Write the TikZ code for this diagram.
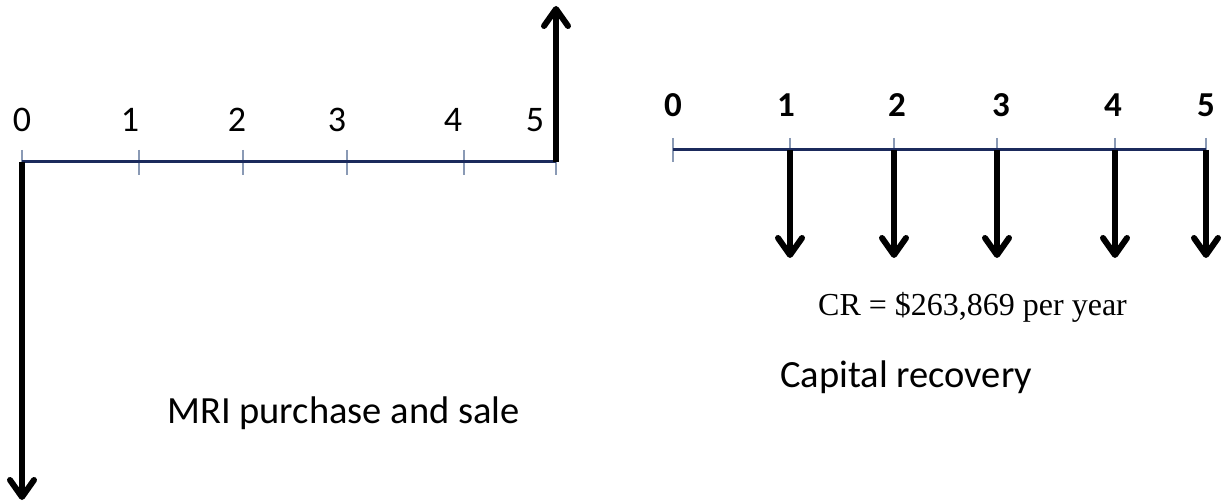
\documentclass[tikz,border=0pt]{standalone}
\usepackage{fontspec}
\setmainfont{Carlito}
\newfontfamily\tnr{Liberation Serif}
\usetikzlibrary{arrows.meta}
\definecolor{navy}{HTML}{1B2A5C}
\definecolor{tickc}{HTML}{8A9AB5}
\tikzset{
  axis/.style={navy, line width=3pt},
  tickmark/.style={tickc, line width=1.5pt},
  flow/.style={black, line width=6pt, -{Straight Barb[length=17pt,width=24pt,round]}},
  lnum/.style={anchor=base, inner sep=0pt, font=\fontsize{36}{40}\selectfont},
  rnum/.style={anchor=base, inner sep=0pt, font=\fontsize{35}{40}\selectfont\bfseries},
  caption/.style={anchor=base west, inner sep=0pt, font=\fontsize{38.5}{44}\selectfont},
}
\begin{document}
\begin{tikzpicture}[x=1pt,y=-1pt]
\useasboundingbox (0,0) rectangle (1225,502);
% left timeline
\foreach \i/\x in {0/22,1/139,2/243,3/347,4/464,5/556}{
  \coordinate (L\i) at (\x,162);
  \draw[tickmark] (\x,150) -- (\x,175);
}
\draw[axis] (L0) -- (L5);
\foreach \i/\x in {0/22,1/130,2/237,3/337,4/453,5/535}{
  \node[lnum] (ln\i) at (\x,132) {\i};
}
\coordinate (Lbot) at (22,500);
\coordinate (Ltop) at (556,6);
\draw[flow] (L0) -- (Lbot);
\draw[flow] (L5) -- (Ltop);
\node[caption] (mri) at (167,423) {MRI purchase and sale};
% right timeline
\foreach \i/\x in {0/673,1/790,2/894,3/997,4/1115,5/1206}{
  \coordinate (R\i) at (\x,150);
  \draw[tickmark] (\x,138) -- (\x,162);
}
\draw[axis] (R0) -- (R5);
\foreach \i/\x in {0/673,1/786,2/897,3/1001,4/1113,5/1206}{
  \node[rnum] (rn\i) at (\x,117) {\i};
}
\foreach \i in {1,...,5}{
  \path (R\i) ++(0,108) coordinate (D\i);
  \draw[flow] (R\i) -- (D\i);
}
\node[anchor=base west, inner sep=0pt, font=\tnr\fontsize{32}{36}\selectfont] (cr) at (818,316) {CR = \$263,869 per year};
\node[caption] (cap) at (780,387) {Capital recovery};
\end{tikzpicture}
\end{document}
